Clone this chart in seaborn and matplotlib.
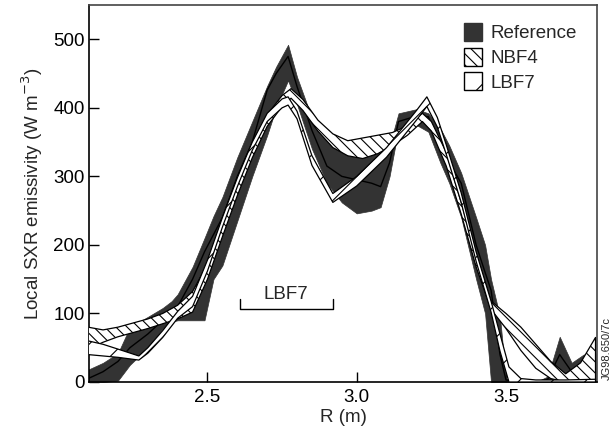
import numpy as np
import pandas as pd
import matplotlib
matplotlib.use("Agg")
import matplotlib.pyplot as plt
import seaborn as sns
from matplotlib.patches import Patch

# ---------------- data ----------------
ref_x = [2.10, 2.15, 2.20, 2.24, 2.30, 2.35, 2.38, 2.40, 2.45, 2.49, 2.52, 2.55, 2.60, 2.65,
         2.70, 2.73, 2.77, 2.80, 2.85, 2.90, 2.95, 3.00, 3.05, 3.08, 3.11, 3.14, 3.20,
         3.24, 3.28, 3.31, 3.35, 3.40, 3.43, 3.45, 3.48, 3.50, 3.55, 3.60, 3.64, 3.68,
         3.72, 3.76, 3.80]
ref_hi = [18, 28, 42, 80, 95, 108, 118, 128, 168, 210, 242, 270, 328, 380,
          432, 460, 492, 445, 385, 362, 345, 338, 336, 338, 345, 392, 398,
          392, 370, 345, 305, 240, 200, 150, 95, 5, 0, 0, 8, 66,
          28, 40, 42]
ref_lo = [0, 0, 2, 25, 50, 78, 88, 90, 90, 90, 150, 170, 235, 300,
          360, 400, 440, 405, 340, 290, 262, 246, 250, 255, 300, 370, 375,
          365, 320, 290, 240, 150, 100, 0, 0, 0, 0, 0, 0, 0,
          0, 0, 0]
ref_mid = [5, 15, 30, 50, 70, 90, 100, 110, 150, 190, 215, 240, 300, 350,
           426, 450, 475, 431, 367, 315, 300, 295, 290, 285, 320, 380, 388,
           387, 340, 320, 290, 200, 160, 134, 40, 3, 0, 0, 4, 40,
           15, 30, 32]

nbf_x = [2.10, 2.15, 2.20, 2.25, 2.30, 2.35, 2.40, 2.45, 2.50, 2.55, 2.60, 2.65, 2.70, 2.75,
         2.78, 2.82, 2.87, 2.92, 2.97, 3.02, 3.07, 3.12, 3.17, 3.22, 3.25, 3.30, 3.35,
         3.40, 3.45, 3.50, 3.55, 3.60, 3.65, 3.70, 3.75, 3.80]
nbf_hi = [80, 76, 80, 86, 92, 100, 112, 132, 172, 232, 292, 345, 390, 418,
          428, 412, 382, 362, 352, 356, 360, 364, 374, 392, 380, 335, 262,
          185, 118, 100, 80, 55, 30, 12, 28, 65]
nbf_lo = [48, 58, 66, 72, 78, 85, 92, 102, 150, 212, 272, 327, 373, 402,
          414, 396, 366, 342, 330, 326, 333, 345, 360, 380, 366, 315, 245,
          168, 106, 78, 46, 20, 5, 0, 0, 0]

lbf_x = [2.10, 2.15, 2.20, 2.27, 2.30, 2.35, 2.40, 2.45, 2.50, 2.55, 2.60, 2.65, 2.70, 2.75,
         2.77, 2.80, 2.85, 2.92, 3.00, 3.10, 3.20, 3.235, 3.27, 3.30, 3.35, 3.40, 3.45,
         3.48, 3.51, 3.55, 3.60, 3.70, 3.80]
lbf_hi = [60, 55, 48, 38, 50, 75, 103, 125, 178, 240, 298, 350, 392, 413,
          416, 395, 330, 275, 300, 342, 396, 416, 386, 346, 276, 190, 118,
          70, 22, 5, 3, 3, 4]
lbf_lo = [40, 38, 36, 32, 42, 65, 93, 110, 162, 226, 285, 338, 380, 400,
          404, 384, 316, 262, 286, 328, 382, 402, 372, 332, 262, 176, 102,
          45, 0, 0, 0, 0, 0]

x_ticks = [2.5, 3.0, 3.5]
y_ticks = [0, 100, 200, 300, 400, 500]
series_names = ["Reference", "NBF4", "LBF7"]

# ---------------- style ----------------
sns.set_theme(style="ticks")
plt.rcParams['font.family'] = ['Liberation Sans', 'DejaVu Sans']
plt.rcParams['hatch.linewidth'] = 0.8
plt.rcParams['hatch.color'] = 'black'

FS = 13.5
fig = plt.figure(figsize=(6.14, 4.33), dpi=100)
ax = fig.add_axes([89/614, 1-382/433, (597-89)/614, (382-5)/433])

ref_df = pd.DataFrame({"R": ref_x, "mid": ref_mid})

# Reference band (dark)
ax.fill_between(ref_x, ref_lo, ref_hi, facecolor="#333333", edgecolor="#333333",
                linewidth=0.5, zorder=2)
sns.lineplot(data=ref_df, x="R", y="mid", ax=ax, color="black", linewidth=1.0,
             zorder=3, legend=False)

# NBF4 band (dense back-hatch)
ax.fill_between(nbf_x, nbf_lo, nbf_hi, facecolor="white", edgecolor="black",
                hatch="\\\\\\", linewidth=0.9, zorder=4)
# LBF7 band (sparse forward-hatch)
ax.fill_between(lbf_x, lbf_lo, lbf_hi, facecolor="white", edgecolor="black",
                hatch="/", linewidth=0.9, zorder=5)

ax.set_xlim(2.103, 3.805)
ax.set_ylim(0, 550)
ax.set_xticks(x_ticks)
ax.set_xticklabels([f"{v:.1f}" for v in x_ticks])
ax.set_yticks(y_ticks)
ax.set_yticklabels([str(v) for v in y_ticks])
ax.tick_params(direction="in", length=7, width=1, labelsize=FS, colors="black",
               top=False, right=False)
ax.tick_params(axis="x", pad=5)
ax.tick_params(axis="y", pad=3)
for s in ax.spines.values():
    s.set_color("#444444")
    s.set_linewidth(1.2)
    s.set_visible(True)
ax.spines["bottom"].set_color("black")
ax.spines["left"].set_color("black")

ax.set_xlabel("R (m)", fontsize=FS, labelpad=2)
ax.set_ylabel("Local SXR emissivity (W m$^{-3}$)", fontsize=FS, labelpad=6)

# bracket annotation "LBF7"
ax.plot([2.608, 2.608, 2.92, 2.92], [121, 107, 107, 121], color="black",
        linewidth=1.0, zorder=6)
ax.text(2.762, 128, "LBF7", fontsize=FS, ha="center", va="center", zorder=6)

handles = [
    Patch(facecolor="#333333", edgecolor="#333333", label=series_names[0]),
    Patch(facecolor="white", edgecolor="black", hatch="\\\\\\", label=series_names[1]),
    Patch(facecolor="white", edgecolor="black", hatch="/", label=series_names[2]),
]
ax.legend(handles=handles, loc="upper left", bbox_to_anchor=(0.738, 0.952),
          frameon=False, fontsize=FS, handlelength=0.96, handleheight=1.1,
          handletextpad=0.45, labelspacing=0.28, borderpad=0, borderaxespad=0)

fig.text(607/614, 1-349/433, "JG98.650/7c", rotation=90, fontsize=8,
         ha="center", va="center")

fig.savefig("out.png", dpi=100)
